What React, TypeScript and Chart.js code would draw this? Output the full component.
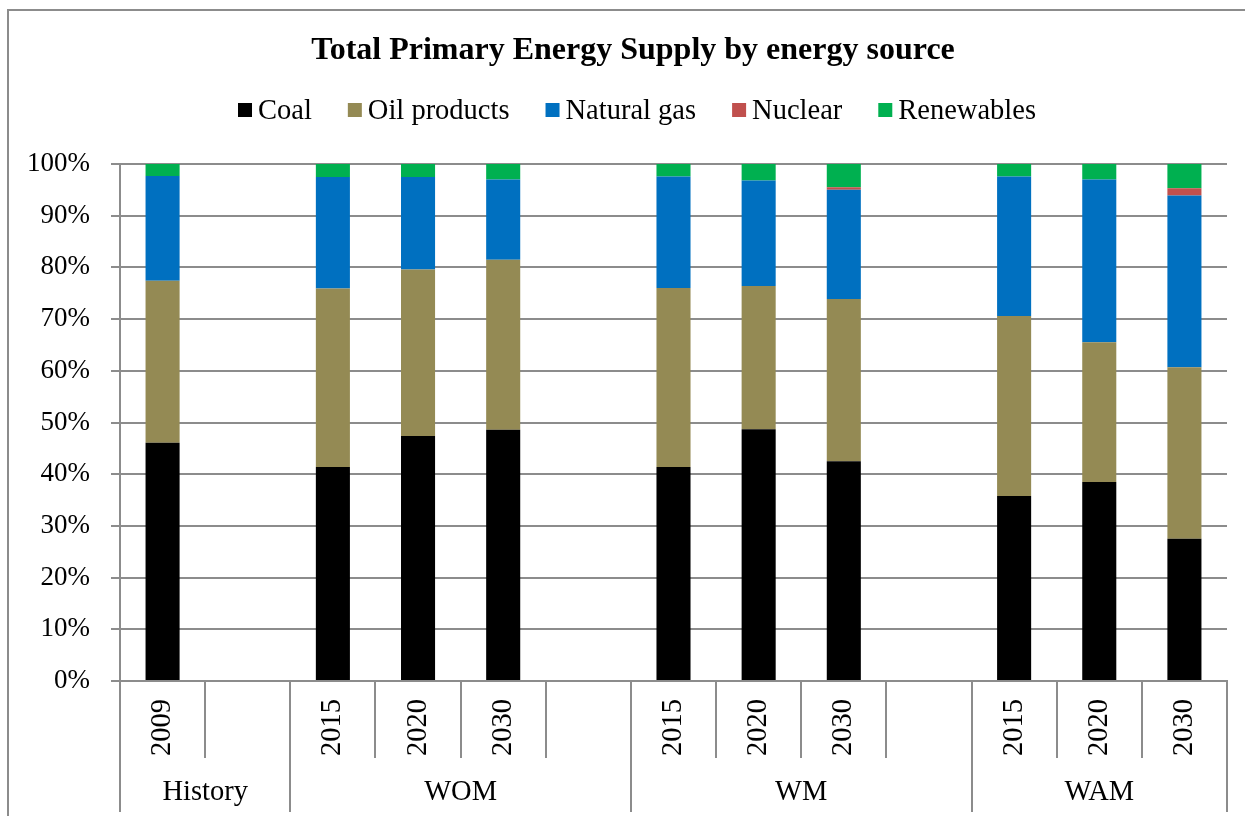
import React, { useEffect, useRef } from "react";
import { Chart, registerables } from "chart.js";

Chart.register(...registerables);

// Category slots: one per bar position, blank slots separate the scenarios
const years = ["2009", "", "2015", "2020", "2030", "", "2015", "2020", "2030", "", "2015", "2020", "2030"];
const scenarioNames = ["History", "WOM", "WM", "WAM"];
const scenarioSpans = [2, 4, 4, 3]; // slots covered by each scenario

// Shares of total primary energy supply, %
const coal = [46.1, null, 41.4, 47.4, 48.6, null, 41.4, 48.7, 42.5, null, 35.8, 38.5, 27.5];
const oilProducts = [31.3, null, 34.5, 32.2, 32.9, null, 34.6, 27.7, 31.4, null, 34.8, 27.0, 33.2];
const naturalGas = [20.3, null, 21.6, 17.9, 15.5, null, 21.6, 20.4, 21.1, null, 27.0, 31.5, 33.2];
const nuclear = [0, null, 0, 0, 0, null, 0, 0, 0.5, null, 0, 0, 1.4];
const renewables = [2.3, null, 2.5, 2.5, 3.0, null, 2.4, 3.2, 4.5, null, 2.4, 3.0, 4.7];

const sourceNames = ["Coal", "Oil products", "Natural gas", "Nuclear", "Renewables"];
const sourceColors = ["#000000", "#948A54", "#0070C0", "#C0504D", "#00B050"];

const TITLE = "Total Primary Energy Supply by energy source";
const FONT = '"Liberation Serif", "Times New Roman", serif';
const GRID = "#8c8c8c";

const decorPlugin = {
  id: "decor",
  afterDraw(chart: any) {
    const ctx: CanvasRenderingContext2D = chart.ctx;
    const xs = chart.scales.x;
    const area = chart.chartArea;
    ctx.save();

    // outer frame
    ctx.strokeStyle = GRID;
    ctx.lineWidth = 2;
    ctx.strokeRect(8, 10, 1400, 1000);

    // title
    ctx.fillStyle = "#000";
    ctx.font = `bold 32px ${FONT}`;
    ctx.textAlign = "center";
    ctx.textBaseline = "alphabetic";
    ctx.fillText(TITLE, 633, 59);

    // legend
    ctx.font = `28.5px ${FONT}`;
    ctx.textAlign = "left";
    const box = 14;
    const boxGap = 6;
    const itemGap = 36;
    const datasets = chart.data.datasets;
    const widths = datasets.map((d: any) => ctx.measureText(d.label).width);
    const total =
      widths.reduce((a: number, w: number) => a + w + box + boxGap, 0) + itemGap * (datasets.length - 1);
    let lx = 637 - total / 2;
    datasets.forEach((d: any, i: number) => {
      ctx.fillStyle = d.backgroundColor;
      ctx.fillRect(lx, 103, box, box);
      ctx.fillStyle = "#000";
      ctx.fillText(d.label, lx + box + boxGap, 119);
      lx += box + boxGap + widths[i] + itemGap;
    });

    // category axis: separators, year labels, scenario labels
    const half = (xs.getPixelForValue(1) - xs.getPixelForValue(0)) / 2;
    const edges: number[] = [0];
    scenarioSpans.reduce((acc, s) => {
      edges.push(acc + s);
      return acc + s;
    }, 0);
    ctx.strokeStyle = GRID;
    ctx.lineWidth = 2;
    for (let k = 0; k <= years.length; k++) {
      const px = Math.round(xs.getPixelForValue(k) - half);
      const long = edges.includes(k);
      ctx.beginPath();
      ctx.moveTo(px, area.bottom);
      ctx.lineTo(px, long ? 812 : 758);
      ctx.stroke();
    }

    ctx.fillStyle = "#000";
    ctx.font = `28.5px ${FONT}`;
    years.forEach((y, i) => {
      if (!y) return;
      ctx.save();
      ctx.translate(xs.getPixelForValue(i), 756);
      ctx.rotate(-Math.PI / 2);
      ctx.textAlign = "left";
      ctx.textBaseline = "middle";
      ctx.fillText(y, 0, 0);
      ctx.restore();
    });

    ctx.textAlign = "center";
    ctx.textBaseline = "alphabetic";
    scenarioNames.forEach((name, g) => {
      const x0 = xs.getPixelForValue(edges[g]) - half;
      const x1 = xs.getPixelForValue(edges[g + 1]) - half;
      ctx.fillText(name, (x0 + x1) / 2, 800);
    });

    ctx.restore();
  },
};

export default function App() {
  const ref = useRef<HTMLCanvasElement>(null);

  useEffect(() => {
    const series = [coal, oilProducts, naturalGas, nuclear, renewables];
    const chart = new Chart(ref.current as HTMLCanvasElement, {
      type: "bar",
      data: {
        labels: years,
        datasets: series.map((values, i) => ({
          label: sourceNames[i],
          data: values,
          backgroundColor: sourceColors[i],
          borderWidth: 0,
          barPercentage: 0.4,
          categoryPercentage: 1,
        })),
      },
      options: {
        responsive: false,
        animation: false,
        devicePixelRatio: 1,
        layout: { padding: { top: 164, right: 18, left: 0, bottom: 0 } },
        plugins: {
          legend: { display: false },
          title: { display: false },
          tooltip: { enabled: false },
        },
        scales: {
          x: {
            stacked: true,
            grid: { display: false },
            border: { display: true, color: GRID, width: 2 },
            ticks: { display: false },
            afterFit: (s: any) => {
              s.height = 135;
            },
          },
          y: {
            stacked: true,
            min: 0,
            max: 100,
            ticks: {
              stepSize: 10,
              padding: 21,
              color: "#000",
              font: { family: FONT, size: 27 },
              callback: (v: any) => `${v}%`,
            },
            grid: { color: GRID, lineWidth: 2, tickLength: 9 },
            border: { display: true, color: GRID, width: 2 },
            afterFit: (s: any) => {
              s.width = 120;
            },
          },
        },
      },
      plugins: [decorPlugin],
    });
    return () => chart.destroy();
  }, []);

  return (
    <div style={{ position: "absolute", left: 0, top: 0, width: 1245, height: 816, background: "#fff" }}>
      <canvas ref={ref} width={1245} height={816} style={{ display: "block" }} />
    </div>
  );
}
